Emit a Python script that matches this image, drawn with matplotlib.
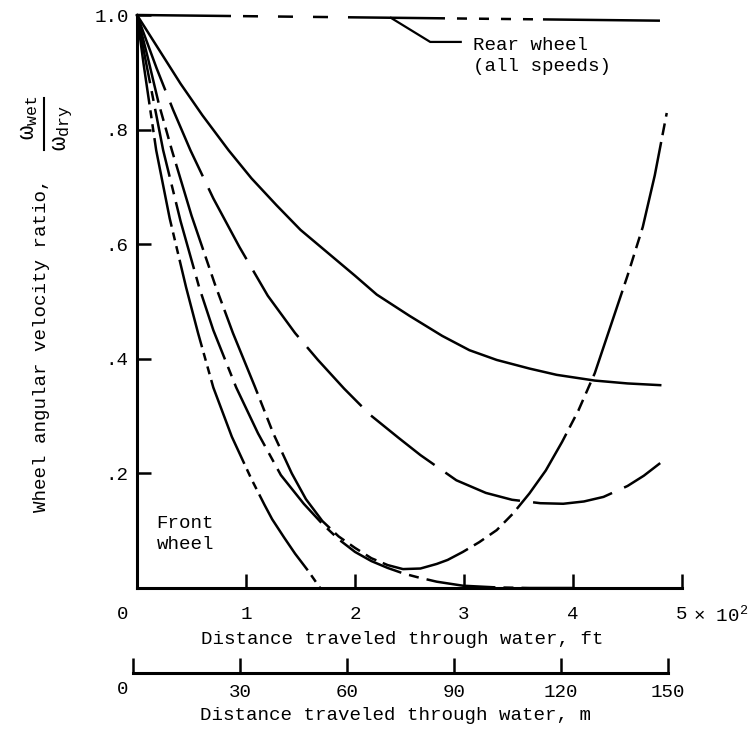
import numpy as np
import matplotlib.pyplot as plt
from matplotlib.lines import Line2D

plt.rcParams['font.family'] = ['Liberation Mono', 'DejaVu Sans']
plt.rcParams['lines.scale_dashes'] = False
plt.rcParams['mathtext.fontset'] = 'custom'
plt.rcParams['mathtext.rm'] = 'Liberation Mono'
plt.rcParams['mathtext.it'] = 'Liberation Mono'

# distance in units of 10^2 ft, ratio = omega_wet / omega_dry
rear_x = [0.0, 4.85]
rear_y = [1.0, 0.99]

front_a_x = [0.0, 0.2, 0.4, 0.6, 0.84, 1.05, 1.28, 1.5, 1.75, 2.0, 2.2, 2.5, 2.8, 3.05,
             3.3, 3.6, 3.85, 4.2, 4.5, 4.8]
front_a_y = [1.0, 0.94, 0.88, 0.825, 0.764, 0.715, 0.668, 0.625, 0.585, 0.545, 0.512, 0.475,
             0.44, 0.415, 0.398, 0.383, 0.372, 0.362, 0.357, 0.354]

front_b_x = [0.0, 0.18, 0.33, 0.49, 0.7, 0.94, 1.2, 1.45, 1.66, 1.9, 2.14, 2.4, 2.6, 2.93,
             3.2, 3.44, 3.7, 3.91, 4.1, 4.28, 4.5, 4.65, 4.8]
front_b_y = [1.0, 0.907, 0.835, 0.764, 0.68, 0.595, 0.51, 0.445, 0.398, 0.348, 0.302, 0.262,
             0.232, 0.188, 0.166, 0.154, 0.148, 0.147, 0.151, 0.159, 0.178, 0.196, 0.218]

front_c_x = [0.0, 0.1, 0.2, 0.32, 0.5, 0.715, 0.88, 1.08, 1.25, 1.42, 1.55, 1.7, 1.85, 2.0,
             2.15, 2.3, 2.44, 2.6, 2.75, 2.85, 2.99, 3.14, 3.3, 3.45, 3.6, 3.75, 3.9, 4.05,
             4.2, 4.35, 4.5, 4.64, 4.75, 4.86]
front_c_y = [1.0, 0.925, 0.845, 0.764, 0.65, 0.53, 0.445, 0.352, 0.27, 0.2, 0.155, 0.117,
             0.09, 0.07, 0.052, 0.04, 0.033, 0.034, 0.042, 0.049, 0.063, 0.08, 0.101, 0.13,
             0.165, 0.205, 0.255, 0.31, 0.375, 0.46, 0.545, 0.63, 0.72, 0.829]

front_g_x = [0.0, 0.08, 0.24, 0.4, 0.57, 0.7, 0.91, 1.11, 1.32, 1.53, 1.7, 1.85, 2.0, 2.15,
             2.3, 2.45, 2.57, 2.75, 2.99, 3.3, 3.6, 4.0]
front_g_y = [1.0, 0.92, 0.764, 0.64, 0.525, 0.45, 0.35, 0.27, 0.197, 0.147, 0.112, 0.085,
             0.063, 0.047, 0.035, 0.025, 0.019, 0.011, 0.004, 0.001, 0.0, 0.0]

front_d_x = [0.0, 0.06, 0.176, 0.3, 0.45, 0.56, 0.7, 0.87, 1.05, 1.17, 1.24, 1.35, 1.45,
             1.57, 1.68]
front_d_y = [1.0, 0.915, 0.764, 0.645, 0.525, 0.445, 0.35, 0.264, 0.19, 0.145, 0.12, 0.088,
             0.06, 0.03, 0.0]

ft_ticks = [1, 2, 3, 4, 5]
m_ticks = [0, 30, 60, 90, 120, 150]
y_ticks = [0.2, 0.4, 0.6, 0.8, 1.0]
y_labels = ['.2', '.4', '.6', '.8', '1.0']

W, H = 751, 731
fig = plt.figure(figsize=(W / 100, H / 100), dpi=100)
ax = fig.add_axes([137 / W, (H - 588) / H, 545 / W, 573 / H])
ax.set_xlim(0, 5)
ax.set_ylim(0, 1.0)

lw = 1.8
px = 0.72  # points per pixel
rear_dash = tuple(v * px for v in [94, 12, 15, 20, 15, 20, 15, 20, 97, 12, 10, 12, 10, 12,
                                    10, 12, 10, 10, 117, 60])
ax.plot(rear_x, rear_y, color='k', lw=lw, ls=(0, rear_dash), clip_on=False)
ax.plot(front_a_x, front_a_y, color='k', lw=lw, clip_on=False)
ax.plot(front_b_x, front_b_y, color='k', lw=lw, ls=(0, (58, 9.5)), clip_on=False)
ax.plot(front_c_x, front_c_y, color='k', lw=lw,
        ls=(0, (65, 5, 8.6, 5, 8.6, 5, 8.6, 5)), clip_on=False)
ax.plot(front_g_x, front_g_y, color='k', lw=lw, ls=(0, (50, 5.8, 7.2, 5.8)), clip_on=False)
ax.plot(front_d_x, front_d_y, color='k', lw=lw,
        ls=(0, (65, 4.3, 5.8, 4.3, 5.8, 4.3)), clip_on=False)

fs = 13.8
# rear wheel callout
ax.plot([2.33, 2.69, 2.97], [0.995, 0.953, 0.953], color='k', lw=1.6)
ax.text(3.08, 0.962, 'Rear wheel\n(all speeds)', fontsize=fs, ha='left', va='top',
        linespacing=1.3)
ax.text(0.18, 0.128, 'Front\nwheel', fontsize=fs, ha='left', va='top', linespacing=1.3)

for s in ['top', 'right']:
    ax.spines[s].set_visible(False)
for s in ['left', 'bottom']:
    ax.spines[s].set_linewidth(2.2)

ax.set_xticks(ft_ticks)
ax.set_xticklabels([str(t) for t in ft_ticks])
ax.set_yticks(y_ticks)
ax.set_yticklabels(y_labels)
ax.tick_params(axis='x', direction='in', length=10, width=1.8, pad=13, labelsize=fs)
ax.tick_params(axis='y', direction='in', length=10, width=1.8, pad=6, labelsize=fs)

tr = ax.get_xaxis_transform()
ax.text(-0.128, -0.047, '0', transform=tr, fontsize=fs, ha='center', va='center')
ax.text(5.1, -0.047, '× 10$^2$', transform=tr, fontsize=fs, ha='left', va='center')
ax.set_xlabel('Distance traveled through water, ft', fontsize=fs)
ax.xaxis.set_label_coords(0.486, -0.075, transform=ax.transAxes)
ax.xaxis.label.set_va('top')

# metric scale
axm = fig.add_axes([133 / W, (H - 673) / H, 535 / W, 0.001])
axm.set_xlim(0, 150)
axm.set_ylim(0, 1)
for s in ['top', 'right', 'left']:
    axm.spines[s].set_visible(False)
axm.spines['bottom'].set_linewidth(2.2)
axm.set_yticks([])
axm.set_xticks(m_ticks)
axm.set_xticklabels([''] + [str(t) for t in m_ticks[1:]])
axm.tick_params(axis='x', direction='in', length=11, width=1.8, pad=8, labelsize=fs)
fig.text(123 / W, 1 - 690 / H, '0', fontsize=fs, ha='center', va='center')
fig.text(395 / W, 1 - 715 / H, 'Distance traveled through water, m', fontsize=fs,
         ha='center', va='center')

# y label with stacked fraction
fig.text(42 / W, 1 - 345 / H, 'Wheel angular velocity ratio,', fontsize=fs, rotation=90,
         ha='center', va='center')
fig.text(28 / W, 1 - 118 / H, r'$\omega_{\rm wet}$', fontsize=17, rotation=90,
         ha='center', va='center')
fig.text(63 / W, 1 - 128 / H, r'$\omega_{\rm dry}$', fontsize=17, rotation=90,
         ha='center', va='center')
fig.add_artist(Line2D([44 / W, 44 / W], [1 - 98 / H, 1 - 150 / H], color='k', lw=1.5,
                      transform=fig.transFigure))

fig.savefig('out.png', dpi=100)
